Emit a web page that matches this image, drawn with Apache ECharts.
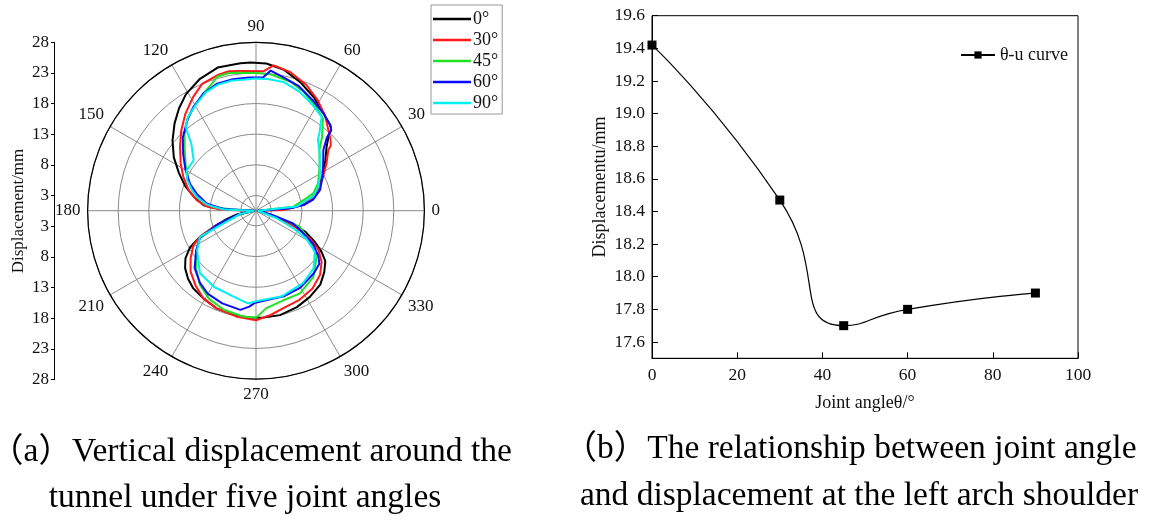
<!DOCTYPE html>
<html><head><meta charset="utf-8">
<script src="https://cdn.jsdelivr.net/npm/echarts@6/dist/echarts.min.js"></script>
<style>html,body{margin:0;padding:0;background:#fff}#c{width:1152px;height:522px}</style>
</head><body><div id="c"></div>
<script>
// ---- (a) polar chart data: [angle (deg)], [vertical displacement (mm)] ----
const seriesNames = ['0°', '30°', '45°', '60°', '90°'];
const ang0 = [0,2,4,5,8,14,22,29,36,42,46,47,49,55,63,71,79,86,92,96,105,113,121,127,133,140,147,154,161,167,174,176,178,180,191,196,201,205,209,214,219,225,231,239,248,258,267,274,283,293,302,311,318,324,328,332,337,340,343,360];
const disp0 = [0.8,2.2,3.9,6.6,8.6,10.1,11.7,13.0,14.5,16.0,17.6,18.5,19.0,19.8,21.3,22.7,24.0,24.6,24.7,24.7,24.7,23.9,22.7,21.4,20.0,18.3,16.5,14.5,12.7,11.0,9.1,7.5,4.7,0.8,3.7,5.5,7.9,10.6,12.8,14.4,15.4,16.2,16.8,17.2,17.7,17.9,18.0,18.0,18.0,17.6,17.1,16.5,15.5,14.5,13.1,11.4,9.2,6.4,3.5,0.8];
const ang1 = [0,1.5,7,11,18,27,34,40,41,44,49,54,61,68,76,83,87,95,101,106,113,119,126,133,140,148,155,163,170,175,178,179,180,193,200,205,209,216,223,231,239,248,260,270,278,286,296,306,315,322,328,333,337,342,360];
const disp1 = [0.8,5.0,8.3,9.5,11.2,12.8,14.4,15.9,16.7,17.4,18.4,19.7,21.2,22.6,23.8,24.4,23.3,23.4,23.7,23.5,23.0,21.7,20.1,18.4,16.7,15.0,13.6,12.0,10.3,8.6,6.4,3.7,0.8,3.7,7.3,10.6,12.2,13.7,15.1,16.2,17.2,17.7,18.1,18.4,17.7,17.0,16.7,16.2,15.3,14.1,12.5,10.4,7.7,4.6,0.8];
const ang2 = [0,6,14,17,24,35,44,48,54,60,68,75,84,90,97,101,106,109,114,120,126,133,140,148,156,162,169,175,177,180,193,202,206,214,224,233,242,252,263,270,276,287,298,311,323,328,340,345,360];
const disp2 = [0.8,6.6,9.0,10.3,11.6,13.2,14.9,16.6,19.1,20.1,21.4,22.3,22.9,23.0,23.2,23.4,23.3,22.5,21.5,20.4,19.4,17.6,15.7,14.0,12.6,11.5,9.8,7.5,4.7,0.8,3.2,7.4,10.7,12.3,14.1,15.7,16.8,17.5,17.9,18.0,16.5,15.8,15.8,14.8,12.9,11.5,8.1,3.5,0.8];
const ang3 = [0,4,7,11,18,27,35,42,46,47,49,55,63,71,79,84,87,93,100,107,114,121,127,135,142,150,158,164,172,177,180,192,200,206,214,223,232,240,250,261,266,269,277,288,300,313,320,324,330,336,341,346,360];
const disp3 = [0.8,6.1,8.5,10.0,11.5,12.7,13.9,15.3,17.2,18.5,19.0,19.8,20.8,22.0,22.8,23.5,22.3,22.3,22.3,22.2,21.5,20.3,19.1,17.4,15.6,13.8,12.1,10.6,8.6,5.8,0.8,3.5,7.3,10.7,12.3,14.2,15.4,16.2,16.6,16.9,16.2,15.6,15.2,15.2,15.0,14.4,14.0,13.1,11.2,8.5,6.9,3.0,0.8];
const ang4 = [0,6,14,21,28,35,42,49,51,53,55,62,70,78,85,90,96,101,107,113,119,126,130,134,141,150,156,162,167,173,178,180,192,205,214,228,241,255,265,270,287,303,315,325,331,335,340,360];
const disp4 = [0.8,7.2,10.1,11.4,12.3,13.2,14.5,15.9,17.0,18.0,19.2,20.1,21.2,22.0,22.1,22.1,22.0,22.1,22.0,21.5,20.5,19.4,18.4,15.7,13.6,13.6,12.8,11.5,10.4,8.6,5.8,0.8,3.2,10.6,12.1,14.2,14.7,15.0,15.7,15.3,15.1,14.6,13.8,12.2,9.9,7.2,4.1,0.8];
const radialCenterValue = 0.5;           // radial value at the pole
const radialMax = 28;
const radialLabels = [28, 23, 18, 13, 8, 3];   // left scale labels (mirrored)

// ---- (b) joint angle vs displacement ----
const jointAngle = [0, 30, 45, 60, 90];
const jointDisp = [19.42, 18.47, 17.70, 17.80, 17.90];
const yTicksB = [17.6, 17.8, 18.0, 18.2, 18.4, 18.6, 18.8, 19.0, 19.2, 19.4, 19.6];

const angles = [ang0, ang1, ang2, ang3, ang4];
const disps = [disp0, disp1, disp2, disp3, disp4];
const colors = ['#000000', '#ff1a1a', '#22e022', '#0a0aff', '#00f0f0'];

const SERIF = '"Liberation Serif", "Times New Roman", "Noto Sans CJK SC", serif';

// left mirrored scale tick positions (signed distance from pole)
const leftTicks = [];
radialLabels.forEach(l => leftTicks.push(-(l - radialCenterValue)));
radialLabels.slice().reverse().forEach(l => leftTicks.push(l - radialCenterValue));

// ring colours: only ticks at 3, 8, 13, ... drawn (tick step 0.5)
const ringColors = [];
for (let i = 0; i < 10; i++) ringColors.push(i === 5 ? '#8a8a8a' : 'rgba(0,0,0,0)');

const chart = echarts.init(document.getElementById('c'), null, {renderer: 'canvas'});

const polarSeries = seriesNames.map((n, k) => ({
  name: n, type: 'line', coordinateSystem: 'polar', polarIndex: 0,
  showSymbol: false, symbol: 'none', animation: false,
  lineStyle: {width: 2, color: colors[k]}, itemStyle: {color: colors[k]},
  data: angles[k].map((a, i) => [disps[k][i], a])
}));

chart.setOption({
  animation: false,
  textStyle: {fontFamily: SERIF},
  polar: {center: [256, 210.7], radius: 168.4},
  angleAxis: {
    type: 'value', min: 0, max: 360, interval: 30, startAngle: 0, clockwise: false,
    axisLine: {lineStyle: {color: '#000', width: 1.2}},
    axisTick: {show: false},
    splitLine: {show: true, lineStyle: {color: '#8a8a8a', width: 1}},
    axisLabel: {fontSize: 17, color: '#111', fontFamily: SERIF, margin: 7,
      formatter: v => (v === 360 ? '' : String(v))}
  },
  radiusAxis: {
    type: 'value', min: radialCenterValue, max: radialMax, interval: 0.5,
    axisLine: {show: false}, axisTick: {show: false}, axisLabel: {show: false},
    splitLine: {show: true, lineStyle: {color: ringColors, width: 1}}
  },
  grid: [
    {left: 54, top: 42.3, width: 1, height: 337.4, show: false},
    {left: 652, right: 74, top: 15.7, bottom: 163.7, show: true, borderColor: '#000', borderWidth: 1}
  ],
  xAxis: [
    {gridIndex: 0, type: 'value', show: false, min: 0, max: 1},
    {gridIndex: 1, type: 'value', min: 0, max: 100, interval: 20,
      axisLine: {lineStyle: {color: '#000', width: 1}},
      axisTick: {inside: true, length: 6, lineStyle: {color: '#000'}},
      splitLine: {show: false},
      axisLabel: {fontSize: 17.5, color: '#111', margin: 8, fontFamily: SERIF},
      name: 'Joint angleθ/°', nameLocation: 'middle', nameGap: 36,
      nameTextStyle: {fontSize: 18, color: '#111', fontFamily: SERIF}}
  ],
  yAxis: [
    {gridIndex: 0, type: 'value', min: -(radialMax - radialCenterValue), max: radialMax - radialCenterValue, interval: 2.5,
      axisLine: {show: true, lineStyle: {color: '#000', width: 1}},
      axisTick: {show: true, length: 3, lineStyle: {color: '#000'}, customValues: leftTicks},
      axisLabel: {fontSize: 17, color: '#111', margin: 5, fontFamily: SERIF, customValues: leftTicks,
        formatter: v => String(Math.round(Math.abs(v) + radialCenterValue))},
      splitLine: {show: false},
      name: 'Displacement/mm', nameLocation: 'middle', nameGap: 27, nameRotate: 90,
      nameTextStyle: {fontSize: 17, color: '#111', fontFamily: SERIF}},
    {gridIndex: 1, type: 'value', min: 17.5, max: 19.6, interval: 0.1,
      axisLine: {show: true, lineStyle: {color: '#000', width: 1}},
      axisTick: {inside: true, length: 6, lineStyle: {color: '#000'}, customValues: yTicksB},
      axisLabel: {fontSize: 17.5, color: '#111', margin: 7, fontFamily: SERIF, customValues: yTicksB,
        formatter: v => v.toFixed(1)},
      splitLine: {show: false},
      name: 'Displacementu/mm', nameLocation: 'middle', nameGap: 43, nameRotate: 90,
      nameTextStyle: {fontSize: 18, color: '#111', fontFamily: SERIF}}
  ],
  legend: [
    {data: seriesNames, orient: 'vertical', left: 431, top: 5, icon: 'rect', itemWidth: 38, itemHeight: 2.5, itemGap: 3,
      padding: [5, 4, 2, 2], borderColor: '#999', borderWidth: 1,
      textStyle: {fontSize: 18, lineHeight: 18, color: '#111', fontFamily: SERIF, padding: [0, 0, 0, -3]}},
    {data: ['θ-u curve'], left: 955, top: 41, itemWidth: 34, itemHeight: 9,
      textStyle: {fontSize: 18, color: '#111', fontFamily: SERIF}}
  ],
  series: polarSeries.concat([{
    name: 'θ-u curve', type: 'line', xAxisIndex: 1, yAxisIndex: 1,
    smooth: 0.6, symbol: 'rect', symbolSize: 9,
    itemStyle: {color: '#000'}, lineStyle: {color: '#000', width: 1.2},
    data: jointAngle.map((a, i) => [a, jointDisp[i]])
  }]),
  graphic: [
    {type: 'text', x: 251, y: 452, style: {text: '（a）Vertical displacement around the', fontSize: 33.5, fontFamily: SERIF, fill: '#000', align: 'center', verticalAlign: 'middle'}},
    {type: 'text', x: 245, y: 498, style: {text: 'tunnel under five joint angles', fontSize: 33.5, fontFamily: SERIF, fill: '#000', align: 'center', verticalAlign: 'middle'}},
    {type: 'text', x: 850, y: 449, style: {text: '（b）The relationship between joint angle', fontSize: 33.5, fontFamily: SERIF, fill: '#000', align: 'center', verticalAlign: 'middle'}},
    {type: 'text', x: 859, y: 496, style: {text: 'and displacement at the left arch shoulder', fontSize: 33.5, fontFamily: SERIF, fill: '#000', align: 'center', verticalAlign: 'middle'}}
  ]
});
</script>
</body></html>
